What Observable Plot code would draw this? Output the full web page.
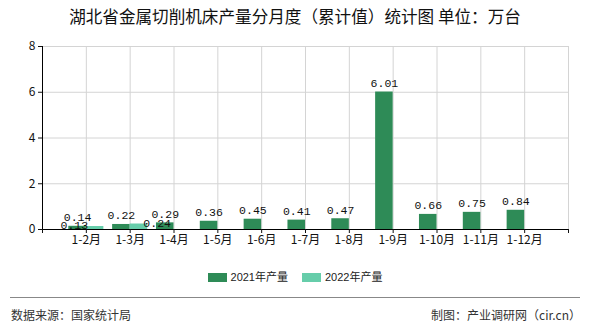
<!DOCTYPE html>
<html><head><meta charset="utf-8">
<script src="https://cdn.jsdelivr.net/npm/d3@7"></script>
<script src="https://cdn.jsdelivr.net/npm/@observablehq/plot@0.6"></script>
<style>
body{margin:0;width:590px;height:330px;position:relative;background:#fff;font-family:"Noto Sans CJK SC",sans-serif;overflow:hidden}
#title{position:absolute;top:5px;left:0;width:590px;text-align:center;font-size:16.6px;line-height:22px;color:#111;}
#chart{position:absolute;top:30px;left:0}
#legend{position:absolute;top:268px;left:0;width:590px;display:flex;justify-content:center;gap:14px;font-size:11px;line-height:18px;color:#222;font-family:"Liberation Sans","Noto Sans CJK SC",sans-serif}
#legend span.sw{display:inline-block;width:19px;height:9px;margin-right:4px;vertical-align:-1px}
#sep{position:absolute;top:297px;left:10px;width:570px;height:0;border-top:1.5px solid #888}
.foot{position:absolute;top:306px;font-size:12px;line-height:18px;color:#333}
</style></head>
<body>
<div id="title">湖北省金属切削机床产量分月度（累计值）统计图 单位：万台</div>
<div id="chart"></div>
<div id="legend"></div>
<div id="sep"></div>
<div class="foot" style="left:11px">数据来源：国家统计局</div>
<div class="foot" style="right:9px">制图：产业调研网（cir.cn）</div>
<script>
const months = ["1-2月","1-3月","1-4月","1-5月","1-6月","1-7月","1-8月","1-9月","1-10月","1-11月","1-12月"];
const v2021 = [0.14,0.22,0.29,0.36,0.45,0.41,0.47,6.01,0.66,0.75,0.84];
const v2022 = [0.13,0.24];
const seriesNames = ["2021年产量","2022年产量"];
const colors = ["#2E8B57","#66CDAA"];
const yTicks = [0,2,4,6,8];

const rows21 = months.map((m,i)=>({m, i:i+1, v:v2021[i]}));
const rows22 = v2022.map((v,i)=>({m:months[i], i:i+1, v}));
const lab = {fontFamily:"Liberation Mono, DejaVu Sans Mono, monospace", fontSize:11.5, fill:"#111"};

const chart = Plot.plot({
  width:590, height:225, marginTop:16, marginBottom:26, marginLeft:42, marginRight:22,
  style:{fontSize:"12px", fontFamily:"'Noto Sans CJK SC', sans-serif", color:"#111", background:"transparent"},
  x:{domain:[0,12], axis:null},
  y:{domain:[0,8], axis:null},
  marks:[
    Plot.gridY(yTicks.filter(t=>t>0), {stroke:"#d4d4d4", strokeOpacity:1}),
    Plot.gridX(d3.range(1,13), {stroke:"#d4d4d4", strokeOpacity:1}),
    Plot.rectY(rows21, {x1:d=>d.i-0.4, x2:d=>d.i, y:"v", fill:colors[0]}),
    Plot.rectY(rows22, {x1:d=>d.i, x2:d=>d.i+0.4, y:"v", fill:colors[1]}),
    Plot.ruleY([0], {stroke:"#000"}),
    Plot.ruleX([0], {stroke:"#000"}),
    Plot.axisY({ticks:yTicks, tickSize:4, tickPadding:3, label:null, fill:"#111"}),
    Plot.axisX({ticks:d3.range(0,13), tickFormat:i=>months[i-1] ?? "", tickSize:4, tickPadding:2, label:null, fill:"#111"}),
    Plot.text(rows21, {x:d=>d.i-0.2, y:"v", text:d=>d.v.toFixed(2), dy:-5, lineAnchor:"bottom", ...lab}),
    Plot.text(rows22.slice(0,1), {x:"i", y:"v", text:d=>d.v.toFixed(2), dx:-12, dy:-1, lineAnchor:"middle", ...lab}),
    Plot.text(rows22.slice(1,2), {x:"i", y:"v", text:d=>d.v.toFixed(2), dx:27, dy:-1, lineAnchor:"middle", ...lab})
  ]
});
document.getElementById("chart").appendChild(chart);

const lg = document.getElementById("legend");
seriesNames.forEach((n,k)=>{
  const d = document.createElement("div");
  d.innerHTML = `<span class="sw" style="background:${colors[k]}"></span>${n}`;
  lg.appendChild(d);
});
</script>
</body></html>
